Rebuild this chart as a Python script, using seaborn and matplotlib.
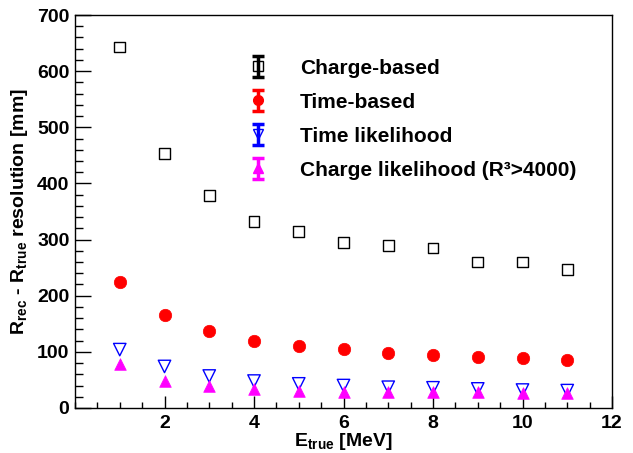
import numpy as np
import pandas as pd
import matplotlib
matplotlib.use("Agg")
import matplotlib.pyplot as plt
import seaborn as sns
from matplotlib.ticker import MultipleLocator

energy = [1, 2, 3, 4, 5, 6, 7, 8, 9, 10, 11]
charge_based = [643, 454, 379, 333, 314, 295, 289, 285, 260, 260, 247]
time_based = [224, 166, 137, 120, 111, 105, 98, 94, 91, 89, 86]
time_likelihood = [104, 74, 57, 48, 43, 40, 37, 36, 34, 32, 31]
charge_likelihood = [79, 48, 40, 34, 31, 29, 29, 28, 28, 27, 26]

labels = ["Charge-based", "Time-based", "Time likelihood",
          "Charge likelihood (R\u00b3>4000)"]

sns.set_theme(style="white")
plt.rcParams['font.family'] = ['Liberation Sans', 'DejaVu Sans']
plt.rcParams['font.weight'] = 'bold'
plt.rcParams['text.color'] = 'black'
plt.rcParams['axes.labelcolor'] = 'black'
plt.rcParams['xtick.color'] = 'black'
plt.rcParams['ytick.color'] = 'black'
plt.rcParams['mathtext.fontset'] = 'custom'
plt.rcParams['mathtext.rm'] = 'Liberation Sans:bold'
plt.rcParams['mathtext.it'] = 'Liberation Sans:bold'
plt.rcParams['mathtext.bf'] = 'Liberation Sans:bold'

fig = plt.figure(figsize=(6.33, 4.53), dpi=100)
ax = fig.add_axes([75/633, 1 - 408/453, 537/633, 393/453])

df = pd.DataFrame({"E": energy, "cb": charge_based, "tb": time_based,
                   "tl": time_likelihood, "cl": charge_likelihood})

sns.scatterplot(data=df, x="E", y="cb", marker="s", s=62, facecolor="none",
                edgecolor="black", linewidth=1.0, ax=ax)
sns.scatterplot(data=df, x="E", y="tb", marker="o", s=80, color="#ff0000",
                edgecolor="#ff0000", linewidth=0.5, ax=ax)
sns.scatterplot(data=df, x="E", y="tl", marker="v", s=80, facecolor="none",
                edgecolor="#0000ff", linewidth=1.0, ax=ax)
sns.scatterplot(data=df, x="E", y="cl", marker="^", s=70, color="#ff00ff",
                edgecolor="#ff00ff", linewidth=0.5, ax=ax)

ax.set_xlim(0, 12)
ax.set_ylim(0, 700)
ax.xaxis.set_minor_locator(MultipleLocator(0.5))
ax.yaxis.set_minor_locator(MultipleLocator(20))
ax.set_xticks([2, 4, 6, 8, 10, 12])
ax.set_yticks([0, 100, 200, 300, 400, 500, 600, 700])
ax.tick_params(axis='x', which='major', direction='in', length=8.3, width=1,
               labelsize=14, bottom=True, pad=5)
ax.tick_params(axis='x', which='minor', direction='in', length=4.2, width=1,
               bottom=True)
ax.tick_params(axis='y', which='major', direction='in', length=11.5, width=1,
               labelsize=14, left=True, pad=4)
ax.tick_params(axis='y', which='minor', direction='in', length=5.8, width=1,
               left=True)
for lab in ax.get_xticklabels() + ax.get_yticklabels():
    lab.set_fontweight('bold')
for sp in ax.spines.values():
    sp.set_color('black')
    sp.set_linewidth(1.0)

ax.set_xlabel(r"E$_{\mathrm{true}}$ [MeV]", fontsize=14, fontweight='bold',
              labelpad=-1)
ax.set_ylabel(r"R$_{\mathrm{rec}}$ - R$_{\mathrm{true}}$ resolution [mm]",
              fontsize=14, fontweight='bold', labelpad=5)

# legend proxies (error-bar style markers)
handles = []
specs = [("s", "black", "none", "black"),
         ("o", "#ff0000", "#ff0000", "#ff0000"),
         ("v", "#0000ff", "none", "#0000ff"),
         ("^", "#ff00ff", "#ff00ff", "#ff00ff")]
for m, c, fc, ec in specs:
    h = ax.errorbar([np.nan], [np.nan], yerr=[1], fmt=m, color=c,
                    mfc=fc, mec=ec, ms=7, capsize=4, elinewidth=2.5,
                    capthick=2.5)
    handles.append(h)
leg = ax.legend(handles, labels, loc='upper left',
                bbox_to_anchor=(0.305, 0.91), frameon=False,
                prop={'size': 15, 'weight': 'bold'}, handlelength=1.0,
                handletextpad=1.55, labelspacing=0.72, borderaxespad=0)
for t in leg.get_texts():
    t.set_color('black')

fig.savefig("out.png", dpi=100)
